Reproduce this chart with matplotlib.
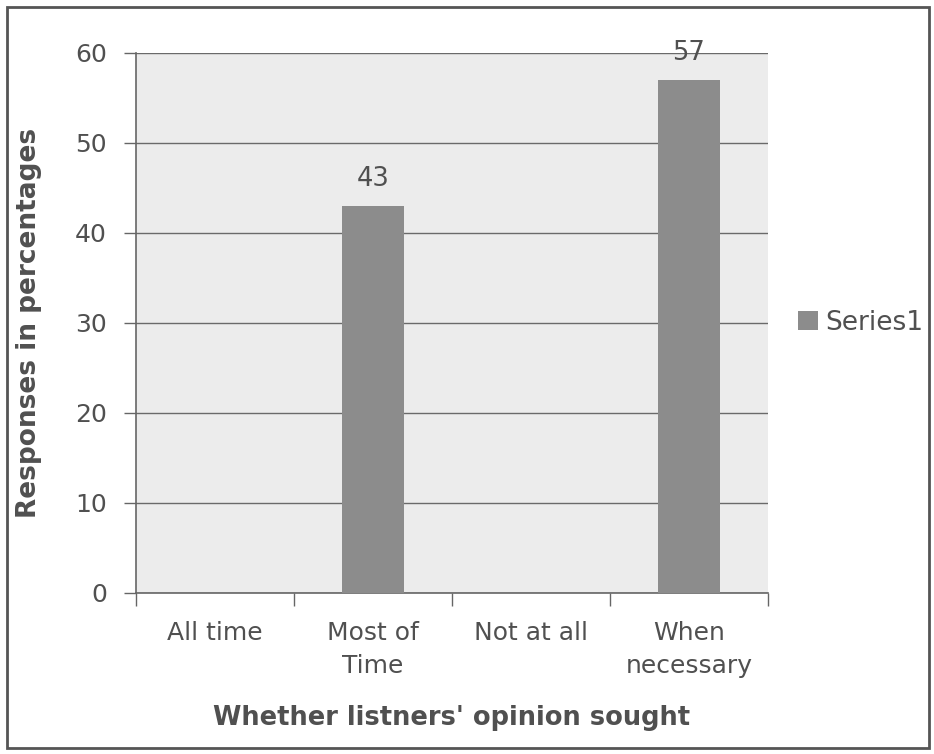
import matplotlib
matplotlib.use("Agg")
import matplotlib.pyplot as plt
from matplotlib.patches import Rectangle

categories = ["All time", "Most of\nTime", "Not at all", "When\nnecessary"]
values = [0, 43, 0, 57]
labels = ["", "43", "", "57"]
series_name = "Series1"

text_color = "#505050"
bar_color = "#8c8c8c"
plot_bg = "#ececec"
grid_color = "#6a6a6a"

fig = plt.figure(figsize=(9.34, 7.54), dpi=100)
fig.patch.set_facecolor("white")
fig.patches.append(Rectangle((7/934, 6/754), 922/934, 741/754, transform=fig.transFigure,
                             fill=False, edgecolor="#555555", linewidth=2.0))

ax = fig.add_axes([136/934, 1 - 593/754, (768-136)/934, (593-53)/754])
ax.set_facecolor(plot_bg)

x = list(range(len(categories)))
bars = ax.bar(x, values, width=0.39, color=bar_color, label=series_name, zorder=3)
for xi, v, lab in zip(x, values, labels):
    if lab:
        ax.text(xi, v + 1.5, lab, ha="center", va="bottom", fontsize=18.5, color=text_color, zorder=4)

ax.set_xlim(-0.5, len(categories) - 0.5)
ax.set_ylim(0, 60)
ax.set_yticks(range(0, 61, 10))
ax.yaxis.grid(True, color=grid_color, linewidth=1.0, zorder=1)
ax.set_axisbelow(True)

ax.set_xticks([i + 0.5 for i in range(-1, len(categories))])
ax.set_xticklabels([])
ax.set_xticks(x, minor=True)
ax.set_xticklabels(categories, minor=True, fontsize=18, color=text_color, linespacing=1.5)
ax.tick_params(axis="x", which="major", length=9, color="#666666", width=1, direction="out")
ax.tick_params(axis="x", which="minor", length=0, pad=20)
ax.tick_params(axis="y", length=9, color="#666666", width=1, labelsize=18, labelcolor=text_color, pad=12)

for s in ["top", "right"]:
    ax.spines[s].set_visible(False)
for s in ["left", "bottom"]:
    ax.spines[s].set_color("#666666")
    ax.spines[s].set_linewidth(1.2)

ax.set_ylabel("Responses in percentages", fontsize=19, fontweight="bold", color=text_color, labelpad=24)
ax.set_xlabel("Whether listners' opinion sought", fontsize=18.5, fontweight="bold", color=text_color, labelpad=19)

leg = fig.legend(handles=[bars], labels=[series_name], loc="center left",
                 bbox_to_anchor=(798/934, 1 - 323/754), frameon=False, fontsize=19,
                 handlelength=0.75, handleheight=0.75, handletextpad=0.3, borderaxespad=0, borderpad=0)
for t in leg.get_texts():
    t.set_color(text_color)

fig.savefig("out.png", dpi=100)
